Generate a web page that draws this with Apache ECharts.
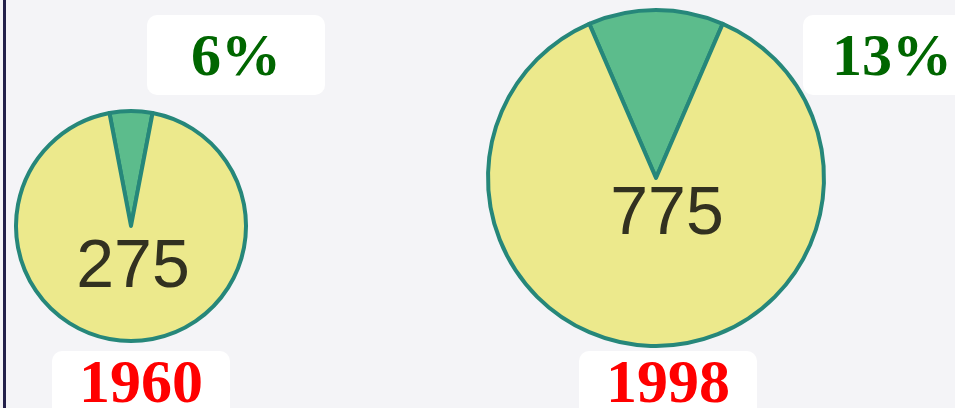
<!DOCTYPE html>
<html>
<head>
<meta charset="utf-8">
<script src="https://cdn.jsdelivr.net/npm/echarts@6/dist/echarts.min.js"></script>
<style>
  html, body { margin: 0; padding: 0; background: #f4f4f7; }
  #chart { width: 955px; height: 408px; }
</style>
</head>
<body>
<div id="chart"></div>
<script>
const years = ['1960', '1998']
const totals = [275, 775]
const shares = [6, 13]

// layout per pie: centre, radius, label boxes
const pieCenters = [[131, 226], [656, 178]]
const pieRadius = [115, 168]
const shareBoxes = [[147, 15], [803, 15]]
const yearBoxes = [[52, 351], [579, 351]]
const totalLabelPos = [[133, 268], [667, 215]]

const chart = echarts.init(document.getElementById('chart'), null, { renderer: 'canvas' })

const series = years.map((y, i) => ({
  type: 'pie',
  center: pieCenters[i],
  radius: [0, pieRadius[i]],
  startAngle: 90 + shares[i] * 3.6 / 2,
  clockwise: true,
  silent: true,
  label: { show: false },
  labelLine: { show: false },
  itemStyle: { borderColor: '#26877a', borderWidth: 4 },
  data: [
    { name: 'share', value: shares[i], itemStyle: { color: '#5cbc8c' } },
    { name: 'rest', value: 100 - shares[i], itemStyle: { color: '#ece98c' } },
  ],
}))

const graphic = [
  { type: 'rect', shape: { x: 3, y: 0, width: 3, height: 408 }, style: { fill: '#23204a' } },
]

years.forEach((y, i) => {
  graphic.push({
    type: 'rect',
    shape: { x: shareBoxes[i][0], y: shareBoxes[i][1], width: 178, height: 80, r: 10 },
    style: { fill: '#ffffff' },
  })
  graphic.push({
    type: 'text',
    x: shareBoxes[i][0] + 89, y: shareBoxes[i][1] + 44,
    style: {
      text: shares[i] + '%', fill: '#006600',
      font: 'bold 60px "Liberation Serif", serif',
      align: 'center', verticalAlign: 'middle',
    },
  })
  graphic.push({
    type: 'rect',
    shape: { x: yearBoxes[i][0], y: yearBoxes[i][1], width: 178, height: 80, r: 10 },
    style: { fill: '#ffffff' },
  })
  graphic.push({
    type: 'text',
    x: yearBoxes[i][0] + 89, y: yearBoxes[i][1] + 35,
    style: {
      text: y, fill: '#ff0000',
      font: 'bold 62px "Liberation Serif", serif',
      align: 'center', verticalAlign: 'middle',
    },
  })
  graphic.push({
    type: 'text',
    x: totalLabelPos[i][0], y: totalLabelPos[i][1],
    z: 100,
    style: {
      text: String(totals[i]), fill: '#323120',
      font: '68px "Liberation Sans", Arial, sans-serif',
      align: 'center', verticalAlign: 'middle',
    },
  })
})

chart.setOption({
  backgroundColor: '#f4f4f7',
  animation: false,
  series,
  graphic,
})
</script>
</body>
</html>
